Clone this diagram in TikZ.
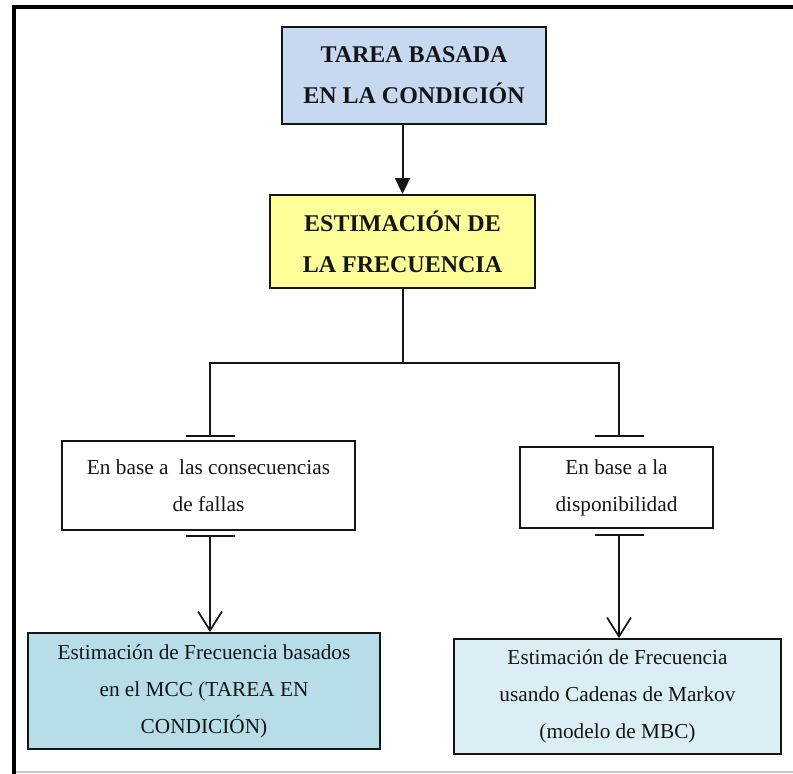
\documentclass[tikz,border=0pt]{standalone}
\usepackage{fontspec}
\setmainfont{Liberation Serif}
\usetikzlibrary{arrows.meta}
\definecolor{boxblue}{HTML}{C6D9F1}
\definecolor{boxyellow}{HTML}{FFFF99}
\definecolor{boxteal}{HTML}{B7DDE8}
\definecolor{boxpale}{HTML}{DBEEF4}
\definecolor{ink}{HTML}{151515}
\tikzset{
  x=1pt, y=-1pt,
  box/.style={draw=ink, line width=1.9pt, inner sep=0pt, align=center, text=ink},
  headbox/.style={box, font=\bfseries\fontsize{24}{41}\selectfont},
  plainbox/.style={box, font=\fontsize{21.3}{37}\selectfont},
  wire/.style={draw=ink, line width=2pt},
  bar/.style={draw=ink, line width=2pt},
  solidarrow/.style={wire, -{Triangle[length=16pt,width=15pt]}},
  openarrow/.style={wire, -{Straight Barb[length=19pt,width=24pt,line width=1.7pt]}},
}
\begin{document}
\begin{tikzpicture}
\useasboundingbox (0,0) rectangle (793,774);
% outer frame
\draw[line width=4pt, black] (14,774) -- (14,7) -- (793,7);
\draw[line width=2pt, black!22] (16,772) -- (793,772);

% main boxes
\node[headbox, fill=boxblue, minimum width=264pt, minimum height=97pt] (tarea) at (414,75.5)
  {TAREA BASADA\\EN LA CONDICIÓN};
\node[headbox, fill=boxyellow, minimum width=265pt, minimum height=93pt] (estim) at (402.5,241.5)
  {ESTIMACIÓN DE\\LA FRECUENCIA};

% criteria boxes
\node[plainbox, minimum width=293pt, minimum height=89pt] (cons) at (208.5,485.5)
  {En base a\ \ las consecuencias\\de fallas};
\node[plainbox, minimum width=193pt, minimum height=81pt] (disp) at (616.5,487.5)
  {En base a la\\disponibilidad};

% result boxes
\node[plainbox, fill=boxteal, minimum width=352pt, minimum height=116pt] (mcc) at (204,691)
  {Estimación de Frecuencia basados\\en el MCC (TAREA EN\\CONDICIÓN)};
\node[plainbox, fill=boxpale, minimum width=327pt, minimum height=115pt] (mbc) at (617.5,696.5)
  {Estimación de Frecuencia\\usando Cadenas de Markov\\(modelo de MBC)};

% coordinates of the branching tree
\coordinate (split) at (402.5,363);
\coordinate (lt) at (210,436);
\coordinate (rt) at (619,436);
\coordinate (lb) at (210,536);
\coordinate (rb) at (619,535);

% top arrow
\draw[solidarrow] (estim.north |- tarea.south) -- (estim.north);

% branching
\draw[wire] (estim.south) -- (split);
\draw[wire] (lt) -- (lt |- split) -- (rt |- split) -- (rt);

% stop bars above and below the criteria boxes
\draw[bar] ([xshift=-24.5pt]lt) -- ([xshift=24.5pt]lt);
\draw[bar] ([xshift=-24.5pt]rt) -- ([xshift=24.5pt]rt);
\draw[bar] ([xshift=-24.5pt]lb) -- ([xshift=24.5pt]lb);
\draw[bar] ([xshift=-24.5pt]rb) -- ([xshift=24.5pt]rb);

% arrows to the result boxes
\draw[openarrow] (lb) -- (lb |- mcc.north);
\draw[openarrow] (rb) -- (rb |- mbc.north);
\end{tikzpicture}
\end{document}
